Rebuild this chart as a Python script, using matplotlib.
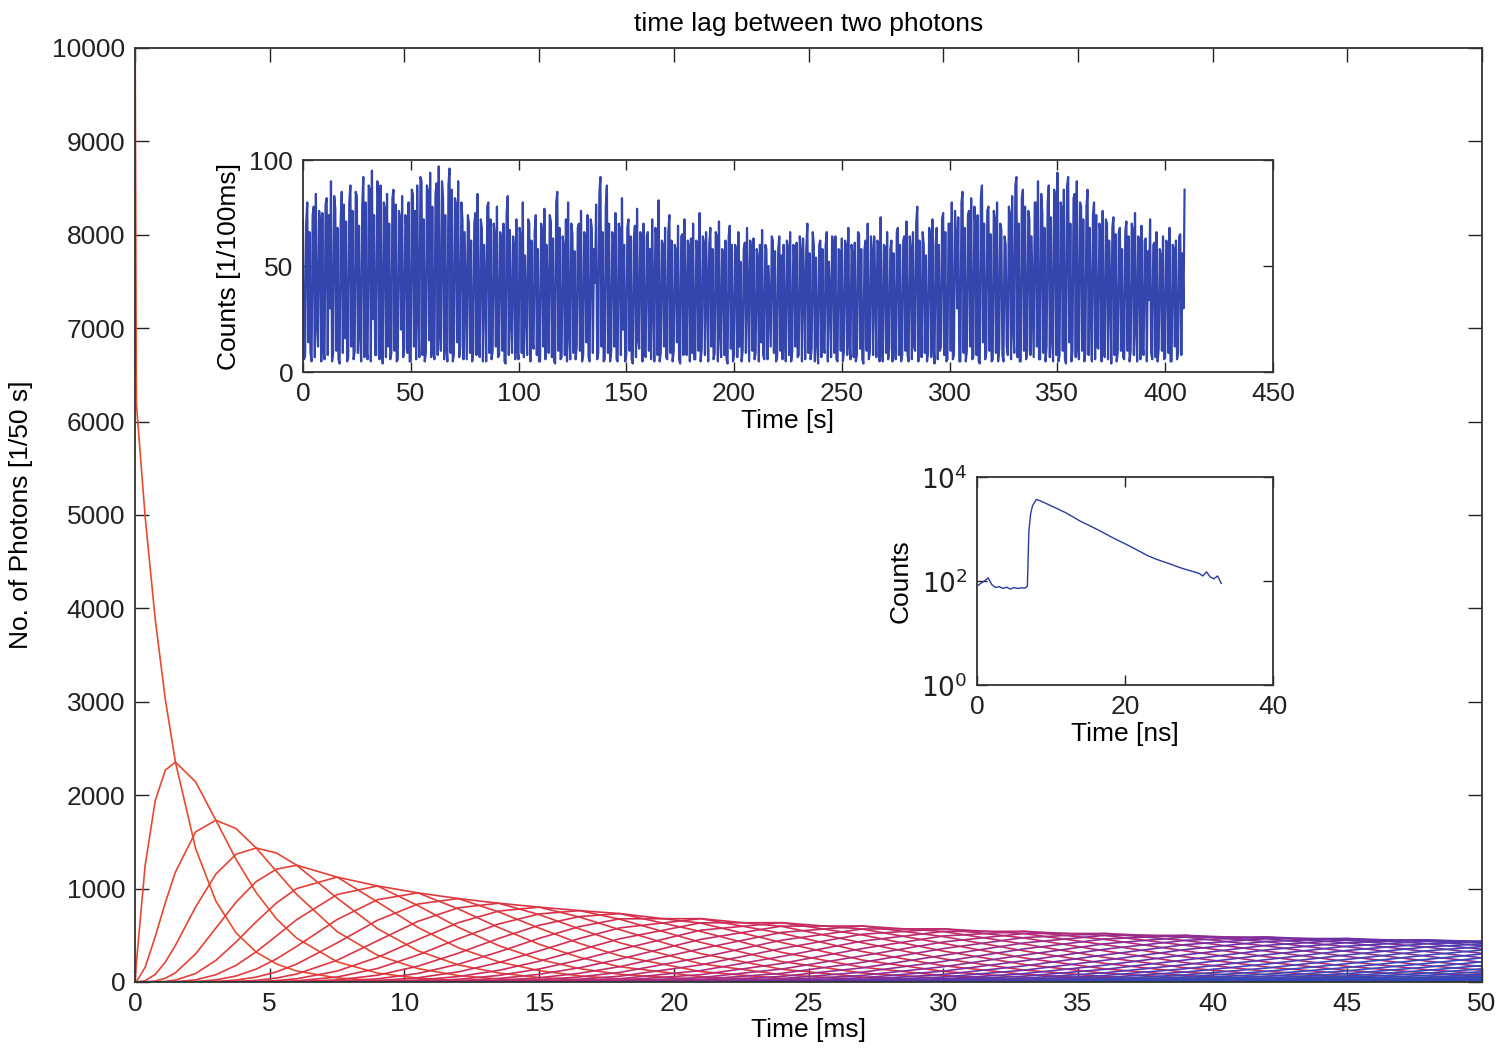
import numpy as np
import matplotlib
matplotlib.use('Agg')
import matplotlib.pyplot as plt
from matplotlib.colors import LinearSegmentedColormap
from matplotlib.ticker import FixedLocator, NullLocator

plt.rcParams['font.family'] = ['Liberation Sans', 'DejaVu Sans']

# main plot: histogram of time lag to the k-th next photon, k = 1..50
lag_ms = [0, 0.05, 0.375, 0.75, 1.125, 1.5, 2.25, 3, 3.75, 4.5, 5.25, 6, 7.5, 9, 10.5,
          12, 13.5, 15, 16.5, 18, 21, 24, 27, 30, 33, 36, 39, 42, 45, 48, 51]
n_orders = 50
# first order (k-1) present in each row of photons_at_lag
first_order = [0, 0, 0, 0, 0, 0, 0, 0, 0, 0, 0, 0, 0, 0, 0, 0, 0, 1, 1, 1, 2, 3, 5, 6, 7, 8, 9, 11, 12, 14, 16]
photons_at_lag = [
    [10500],
    [6190, 206, 3],
    [4984, 1246, 156, 13, 1],
    [3882, 1941, 485, 81, 10, 1],
    [3023, 2268, 850, 213, 40, 6, 1],
    [2354, 2354, 1177, 392, 98, 20, 3],
    [1428, 2142, 1607, 803, 301, 90, 23, 5, 1],
    [866, 1732, 1732, 1155, 577, 231, 77, 22, 6, 1],
    [525, 1313, 1642, 1368, 855, 428, 178, 64, 20, 6, 1],
    [319, 956, 1434, 1434, 1075, 645, 323, 138, 52, 17, 5, 1],
    [193, 676, 1184, 1381, 1208, 846, 493, 247, 108, 42, 15, 5, 1],
    [117, 469, 938, 1250, 1250, 1000, 667, 381, 191, 85, 34, 12, 4, 1],
    [43, 216, 539, 898, 1123, 1123, 936, 668, 418, 232, 116, 53, 22, 8, 3, 1],
    [16, 95, 286, 571, 857, 1028, 1028, 881, 661, 441, 264, 144, 72, 33, 14, 6, 2, 1],
    [6, 41, 143, 334, 584, 817, 954, 954, 834, 649, 454, 289, 169, 91, 45, 21, 9, 4, 2],
    [2, 17, 69, 183, 366, 586, 782, 893, 893, 794, 635, 462, 308, 190, 108, 58, 29, 14, 6, 3, 1],
    [1, 7, 32, 96, 216, 389, 583, 750, 843, 843, 759, 621, 466, 322, 207, 124, 70, 37, 19, 9, 4, 2],
    [3, 15, 48, 121, 242, 404, 577, 721, 801, 801, 728, 607, 467, 333, 222, 139, 82, 45, 24, 12, 6, 3, 1],
    [1, 7, 24, 65, 143, 263, 413, 568, 695, 764, 764, 700, 593, 466, 341, 235, 152, 93, 54, 30, 16, 8, 4, 2, 1],
    [1, 3, 11, 34, 82, 163, 280, 419, 559, 671, 732, 732, 676, 579, 463, 347, 245, 164, 103, 62, 35, 19, 10, 5, 2, 1],
    [1, 2, 9, 24, 56, 111, 195, 303, 424, 540, 630, 678, 678, 633, 554, 456, 355, 261, 183, 122, 78, 47, 28, 15,
     8, 4, 2, 1],
    [1, 2, 6, 17, 38, 77, 136, 218, 317, 423, 521, 595, 635, 635, 598, 531, 447, 358, 273, 198, 138, 92, 59, 36,
     21, 12, 7, 4, 2, 1],
    [2, 5, 12, 27, 53, 96, 157, 235, 326, 419, 503, 566, 599, 599, 567, 511, 438, 358, 280, 210, 151, 105, 70, 45,
     28, 17, 10, 6, 3, 2, 1],
    [1, 3, 8, 19, 37, 68, 113, 174, 248, 331, 413, 486, 540, 569, 569, 541, 492, 428, 357, 285, 220, 163, 116, 80,
     53, 34, 22, 13, 8, 4, 2, 1],
    [1, 2, 6, 13, 26, 48, 81, 127, 187, 257, 333, 406, 471, 518, 542, 542, 519, 475, 418, 354, 288, 227, 172, 126,
     89, 62, 41, 27, 17, 10, 6, 4, 2, 1],
    [1, 2, 4, 9, 18, 34, 58, 93, 140, 198, 263, 333, 399, 456, 498, 519, 519, 499, 460, 409, 351, 290, 232, 180,
     135, 98, 69, 47, 32, 21, 13, 8, 5, 3, 2, 1],
    [1, 1, 3, 7, 13, 24, 42, 68, 104, 151, 206, 268, 332, 392, 443, 480, 499, 499, 481, 446, 400, 347, 291, 236,
     186, 142, 106, 76, 54, 37, 24, 16, 10, 6, 4, 2, 1, 1],
    [1, 2, 5, 9, 17, 30, 50, 77, 114, 160, 213, 271, 330, 385, 431, 464, 481, 481, 464, 434, 392, 343, 291, 239,
     192, 149, 113, 83, 60, 42, 29, 19, 12, 8, 5, 3, 2, 1, 1],
    [1, 2, 3, 7, 12, 22, 36, 57, 86, 123, 167, 218, 273, 327, 377, 419, 449, 465, 465, 450, 422, 383, 338, 290,
     242, 196, 155, 119, 89, 65, 47, 33, 22, 15, 10, 6, 4, 2],
    [1, 2, 5, 9, 16, 26, 42, 64, 94, 130, 174, 222, 274, 324, 371, 409, 436, 450, 450, 437, 411, 376, 334, 289,
     243, 200, 160, 125, 95, 71, 51, 37, 25, 17, 12, 8],
    [2, 3, 6, 11, 19, 31, 48, 71, 101, 137, 179, 225, 274, 321, 364, 399, 424, 437, 437, 424, 401, 368, 329, 287,
     244, 202, 164, 130, 100, 76, 56, 40, 29, 20],
]

# inset 1: intensity trace, 0.5 s per value
trace_counts = [
    72, 6, 8, 70, 80, 14, 66, 9, 5, 74, 78, 7, 84, 22, 12, 76, 70, 5, 75, 11,
    6, 79, 82, 8, 74, 30, 90, 5, 9, 83, 77, 10, 68, 6, 4, 72, 85, 9, 79, 16,
    71, 5, 7, 80, 88, 12, 76, 6, 10, 85, 83, 9, 69, 18, 5, 78, 92, 7, 80, 10,
    6, 88, 86, 5, 95, 25, 74, 8, 8, 90, 81, 6, 88, 14, 4, 80, 77, 7, 84, 12,
    70, 6, 9, 82, 86, 10, 79, 5, 6, 76, 73, 20, 83, 7, 11, 74, 68, 9, 80, 5,
    5, 86, 84, 12, 76, 6, 88, 28, 7, 92, 90, 8, 72, 5, 9, 88, 85, 15, 94, 7,
    78, 10, 6, 84, 89, 8, 97, 20, 10, 90, 82, 6, 74, 12, 5, 88, 96, 9, 86, 5,
    8, 82, 79, 14, 90, 7, 12, 80, 72, 6, 66, 35, 6, 74, 70, 9, 62, 5, 9, 70,
    75, 8, 84, 16, 7, 72, 68, 5, 60, 40, 5, 78, 80, 9, 72, 6, 10, 70, 65, 12,
    78, 7, 8, 66, 62, 10, 70, 5, 4, 75, 83, 8, 67, 25, 9, 64, 58, 6, 72, 11,
    6, 68, 64, 9, 80, 7, 55, 30, 8, 72, 70, 5, 62, 14, 11, 66, 74, 8, 58, 5,
    5, 70, 66, 12, 77, 6, 60, 38, 9, 74, 71, 7, 63, 5, 4, 80, 85, 10, 68, 6,
    7, 64, 59, 8, 72, 5, 80, 18, 6, 70, 65, 9, 57, 6, 12, 68, 70, 10, 76, 5,
    8, 66, 62, 14, 74, 7, 5, 72, 68, 9, 58, 42, 79, 6, 9, 84, 92, 12, 66, 5,
    6, 78, 88, 9, 70, 5, 10, 66, 63, 12, 75, 6, 5, 70, 67, 8, 82, 20, 60, 5,
    8, 68, 72, 10, 64, 6, 4, 62, 69, 7, 77, 15, 11, 66, 60, 5, 70, 9, 7, 64,
    66, 10, 58, 6, 72, 35, 5, 68, 64, 8, 81, 5, 9, 62, 60, 12, 68, 7, 6, 66,
    74, 9, 62, 5, 10, 60, 57, 14, 69, 6, 4, 64, 65, 8, 72, 30, 8, 62, 59, 5,
    63, 9, 70, 6, 6, 62, 56, 10, 75, 5, 11, 64, 61, 8, 66, 40, 5, 60, 68, 12,
    58, 6, 9, 66, 64, 5, 71, 18, 7, 58, 55, 8, 62, 6, 4, 64, 69, 11, 60, 5,
    8, 60, 57, 7, 66, 12, 52, 5, 10, 58, 61, 9, 68, 38, 5, 62, 56, 10, 63, 6,
    9, 58, 54, 5, 60, 14, 67, 8, 6, 60, 58, 6, 50, 30, 12, 64, 62, 9, 57, 5,
    7, 58, 64, 10, 55, 6, 60, 20, 5, 62, 59, 8, 66, 5, 10, 60, 53, 12, 61, 7,
    8, 64, 57, 5, 63, 42, 6, 58, 70, 9, 56, 6, 11, 66, 60, 5, 54, 14, 4, 60,
    62, 7, 58, 12, 9, 60, 66, 5, 52, 36, 7, 64, 60, 9, 64, 6, 5, 58, 57, 10,
    63, 5, 10, 62, 59, 8, 68, 16, 6, 60, 55, 7, 61, 5, 8, 66, 65, 11, 58, 6,
    4, 58, 62, 10, 70, 6, 9, 64, 57, 8, 64, 40, 7, 62, 60, 5, 73, 12, 5, 60,
    59, 9, 66, 6, 11, 58, 62, 5, 56, 20, 6, 66, 68, 8, 60, 5, 8, 62, 64, 10,
    71, 8, 5, 64, 58, 6, 66, 12, 10, 70, 78, 5, 62, 25, 7, 66, 60, 9, 55, 5,
    9, 68, 65, 7, 72, 14, 4, 60, 68, 6, 60, 10, 12, 72, 75, 8, 66, 5, 6, 70,
    70, 10, 80, 6, 8, 76, 64, 30, 73, 5, 5, 80, 85, 9, 68, 5, 10, 74, 76, 12,
    82, 6, 7, 78, 66, 8, 74, 5, 4, 82, 88, 14, 70, 6, 9, 76, 78, 10, 65, 5,
    6, 76, 72, 9, 80, 5, 11, 70, 67, 8, 5, 64, 60, 12, 8, 78, 74, 6, 83, 20,
    9, 88, 92, 7, 70, 5, 5, 82, 86, 10, 78, 6, 10, 76, 72, 8, 64, 35, 7, 80,
    80, 12, 90, 6, 6, 84, 75, 9, 68, 5, 12, 80, 88, 7, 73, 16, 5, 86, 82, 8,
    94, 5, 8, 80, 77, 10, 86, 6, 4, 88, 92, 14, 70, 5, 10, 82, 84, 7, 90, 12,
    6, 80, 78, 10, 72, 5, 9, 78, 86, 8, 68, 28, 5, 74, 80, 6, 74, 12, 11, 70,
    66, 5, 76, 9, 7, 72, 70, 6, 62, 40, 4, 68, 73, 8, 65, 5, 9, 66, 68, 10,
    58, 7, 6, 66, 71, 10, 64, 5, 10, 70, 67, 8, 75, 22, 5, 64, 60, 6, 69, 12,
    8, 62, 63, 5, 57, 34, 72, 9, 6, 60, 61, 7, 66, 5, 11, 58, 55, 10, 64, 6,
    7, 62, 60, 9, 68, 5, 5, 60, 58, 12, 62, 6, 9, 64, 65, 8, 56, 30, 86,
]
trace_bin_s = 0.5

# inset 2: fluorescence decay
decay_ns = [0, 0.5, 1, 1.5, 2, 2.5, 3, 3.5, 4, 4.5, 5, 5.5, 6, 6.5, 6.8, 7, 7.25, 7.5, 8, 8.5,
            9, 10, 11, 12, 13, 14, 15, 16, 17, 18, 19, 20, 21, 22, 23, 24, 25, 26, 27, 28,
            29, 30, 30.5, 31, 31.5, 32, 32.5, 33]
decay_counts = [80, 90, 100, 115, 85, 75, 78, 72, 76, 70, 75, 72, 74, 73, 80, 900, 2000, 2800, 3700, 3500,
                3250, 2800, 2400, 2050, 1700, 1400, 1200, 1020, 860, 720, 610, 520, 440, 370, 310, 270, 240,
                215, 190, 170, 155, 140, 125, 150, 120, 110, 125, 90]

FS = 19


def style_axes(ax, tick_len):
    ax.tick_params(direction='in', top=True, right=True, length=tick_len, width=1.0,
                   labelsize=FS, colors='#222222', pad=7)
    for sp in ax.spines.values():
        sp.set_linewidth(1.3)
        sp.set_color('#333333')


def build_curves():
    table = np.zeros((len(lag_ms), n_orders))
    for j, row in enumerate(photons_at_lag):
        start = first_order[j]
        vals = row[:n_orders - start]
        table[j, start:start + len(vals)] = vals
    return table


def main():
    fig = plt.figure(figsize=(15.02, 10.50), dpi=100)

    ax = fig.add_axes([0.0899, 0.0648, 0.8968, 0.8895])
    table = build_curves()
    cmap = LinearSegmentedColormap.from_list(
        'lag', [(0.0, '#ea4a2c'), (0.25, '#d62e4c'), (0.45, '#b42a78'),
                (0.62, '#6a30a8'), (0.78, '#3848b6'), (1.0, '#3348b8')])
    for k in range(n_orders):
        ax.plot(lag_ms, table[:, k], color=cmap(k / (n_orders - 1)), lw=1.2)
    ax.set_xlim(0, 50)
    ax.set_ylim(0, 10000)
    ax.set_xticks(range(0, 51, 5))
    ax.set_yticks(range(0, 10001, 1000))
    style_axes(ax, 10)
    ax.set_title('time lag between two photons', fontsize=FS, pad=12)
    ax.set_xlabel('Time [ms]', fontsize=FS, labelpad=2)
    ax.set_ylabel('No. of Photons [1/50 s]', fontsize=FS, labelpad=14)

    ax1 = fig.add_axes([0.2017, 0.6457, 0.6458, 0.2019])
    trace_t = np.arange(len(trace_counts)) * trace_bin_s
    ax1.plot(trace_t, trace_counts, color='#3446ad', lw=1.6)
    ax1.set_xlim(0, 450)
    ax1.set_ylim(0, 100)
    ax1.set_xticks(range(0, 451, 50))
    ax1.set_yticks([0, 50, 100])
    style_axes(ax1, 7)
    ax1.set_xlabel('Time [s]', fontsize=FS, labelpad=2)
    ax1.set_ylabel('Counts [1/100ms]', fontsize=FS, labelpad=6)

    ax2 = fig.add_axes([0.6505, 0.3476, 0.1971, 0.1981])
    ax2.plot(decay_ns, decay_counts, color='#2b3a9e', lw=1.0)
    ax2.set_yscale('log')
    ax2.set_xlim(0, 40)
    ax2.set_ylim(1, 1e4)
    ax2.set_xticks([0, 20, 40])
    ax2.yaxis.set_major_locator(FixedLocator([1, 1e2, 1e4]))
    ax2.yaxis.set_minor_locator(NullLocator())
    ax2.set_yticklabels(['$10^0$', '$10^2$', '$10^4$'])
    style_axes(ax2, 7)
    ax2.set_xlabel('Time [ns]', fontsize=FS, labelpad=2)
    ax2.set_ylabel('Counts', fontsize=FS, labelpad=6)

    fig.savefig('out.png', dpi=100)
    plt.close(fig)


if __name__ == '__main__':
    main()
